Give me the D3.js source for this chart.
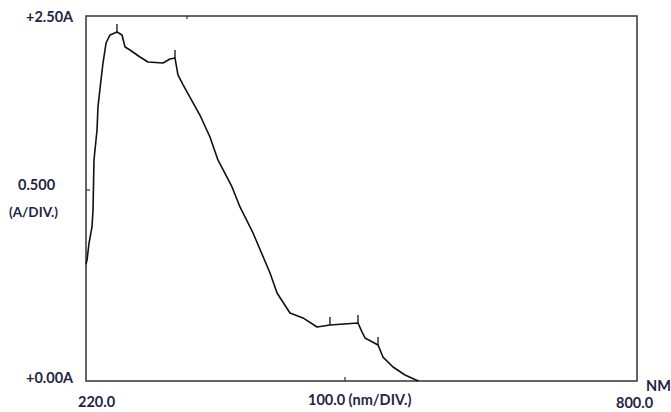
<!DOCTYPE html>
<html>
<head>
<meta charset="utf-8">
<script src="https://cdn.jsdelivr.net/npm/d3@7.9.0/dist/d3.min.js"></script>
<style>
  body { margin: 0; background: #fff; }
  svg text { font-family: Lato, "Open Sans", sans-serif; font-weight: bold; fill: #1f2544; }
</style>
</head>
<body>
<div id="chart"></div>
<script>
// spectrum (nm, absorbance)
const wavelength = [220, 221.1, 223.2, 226.3, 227.4, 228.4, 231.6, 232.6, 235.8, 237.9,
  241.1, 245.3, 252.6, 257.9, 261.1, 266.3, 276.8, 285.3, 301.1, 308.4,
  313.7, 316.8, 322.1, 340.0, 350.5, 358.9, 373.7, 382.1, 395.8, 413.7,
  421.1, 434.7, 448.4, 463.2, 476.8, 506.3, 510.5, 513.7, 527.4, 532.6,
  543.2, 555.8, 566.3, 570.0];
const absorbance = [0.80, 0.829, 0.945, 1.055, 1.171, 1.514, 1.719, 1.877, 2.062, 2.178,
  2.315, 2.370, 2.390, 2.370, 2.288, 2.267, 2.219, 2.185, 2.178, 2.205,
  2.212, 2.096, 2.03, 1.82, 1.671, 1.514, 1.329, 1.192, 1.014, 0.740,
  0.603, 0.466, 0.432, 0.370, 0.384, 0.397, 0.336, 0.295, 0.247, 0.164,
  0.096, 0.041, 0.010, 0.0];

// peak marks drawn by the instrument
const peakNm = [252.6, 313.7, 476.8, 506.3, 527.4];

// small ticks on the frame
const topTickNm = [326.3];
const bottomTickNm = [492.6];
const leftTickA = [1.308];

const xMin = 220, xMax = 800;
const yMin = 0, yMax = 2.5;

const width = 671, height = 412;
const margin = { top: 16, right: 34, bottom: 31, left: 86 };

const svg = d3.select("#chart").append("svg")
  .attr("width", width)
  .attr("height", height);

const x = d3.scaleLinear().domain([xMin, xMax]).range([margin.left, width - margin.right]);
const y = d3.scaleLinear().domain([yMin, yMax]).range([height - margin.bottom, margin.top]);

// frame
svg.append("rect")
  .attr("x", x(xMin))
  .attr("y", y(yMax))
  .attr("width", x(xMax) - x(xMin))
  .attr("height", y(yMin) - y(yMax))
  .attr("fill", "none")
  .attr("stroke", "#333")
  .attr("stroke-width", 1.5);

// frame ticks
svg.selectAll(".ttick").data(topTickNm).join("line")
  .attr("x1", d => x(d)).attr("x2", d => x(d))
  .attr("y1", y(yMax)).attr("y2", y(yMax) + 3)
  .attr("stroke", "#333").attr("stroke-width", 1.2);
svg.selectAll(".btick").data(bottomTickNm).join("line")
  .attr("x1", d => x(d)).attr("x2", d => x(d))
  .attr("y1", y(yMin)).attr("y2", y(yMin) - 4)
  .attr("stroke", "#333").attr("stroke-width", 1.2);
svg.selectAll(".ltick").data(leftTickA).join("line")
  .attr("x1", x(xMin)).attr("x2", x(xMin) + 4)
  .attr("y1", d => y(d)).attr("y2", d => y(d))
  .attr("stroke", "#333").attr("stroke-width", 1.2);

// spectrum
const pts = wavelength.map((w, i) => [w, absorbance[i]]);
svg.append("path")
  .datum(pts)
  .attr("d", d3.line().x(d => x(d[0])).y(d => y(d[1])))
  .attr("fill", "none")
  .attr("stroke", "#111")
  .attr("stroke-width", 1.6)
  .attr("stroke-linejoin", "round");

// peak marks
const peakA = peakNm.map(p => absorbance[wavelength.indexOf(p)]);
svg.selectAll(".peak").data(peakNm).join("line")
  .attr("x1", d => x(d)).attr("x2", d => x(d))
  .attr("y1", (d, i) => y(peakA[i]))
  .attr("y2", (d, i) => y(peakA[i]) - 8)
  .attr("stroke", "#111")
  .attr("stroke-width", 1.3);

// labels
const fs = 14.5;
svg.append("text").attr("x", 26).attr("y", 22).attr("font-size", fs).text("+2.50A");
svg.append("text").attr("x", 18).attr("y", 190).attr("font-size", fs).text("0.500");
svg.append("text").attr("x", 9).attr("y", 217).attr("font-size", fs - 1).text("(A/DIV.)");
svg.append("text").attr("x", 26).attr("y", 383).attr("font-size", fs).text("+0.00A");
svg.append("text").attr("x", 78).attr("y", 407).attr("font-size", fs).text("220.0");
svg.append("text").attr("x", 308).attr("y", 405).attr("font-size", fs).text("100.0 (nm/DIV.)");
svg.append("text").attr("x", 646).attr("y", 391).attr("font-size", fs).text("NM");
svg.append("text").attr("x", 616).attr("y", 408).attr("font-size", fs).text("800.0");
</script>
</body>
</html>
